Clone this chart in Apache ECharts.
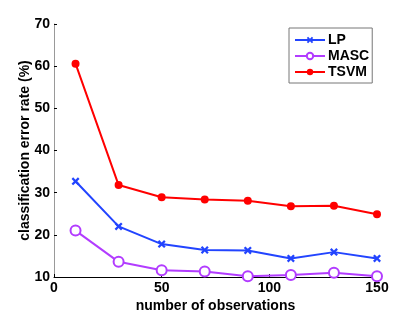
<!DOCTYPE html>
<html><head><meta charset="utf-8">
<script src="https://cdn.jsdelivr.net/npm/echarts@6/dist/echarts.min.js"></script>
<style>html,body{margin:0;padding:0;background:#fff}#c{width:415px;height:312px}</style>
</head><body><div id="c"></div>
<script>
var xs = [10, 30, 50, 70, 90, 110, 130, 150];
var lp = [32.7, 22.0, 17.8, 16.4, 16.3, 14.4, 15.9, 14.4];
var masc = [21.0, 13.6, 11.6, 11.3, 10.2, 10.5, 11.0, 10.2];
var tsvm = [60.6, 31.8, 28.9, 28.4, 28.1, 26.8, 26.9, 24.9];
var xTicks = [0, 50, 100, 150];
var yTicks = [10, 20, 30, 40, 50, 60, 70];

function pts(v){ return xs.map(function(x,i){ return [x, v[i]]; }); }
var font = '"Liberation Sans", Arial, sans-serif';
var chart = echarts.init(document.getElementById('c'), null, {renderer:'canvas'});
var crossPath = 'path://M2,0L5,3L8,0L10,2L7,5L10,8L8,10L5,7L2,10L0,8L3,5L0,2Z';
chart.setOption({
  animation: false,
  backgroundColor: '#fff',
  grid: {left: 54, right: 38, top: 24, bottom: 35, containLabel: false, outerBoundsMode: 'none'},
  legend: {
    orient: 'vertical', left: 289, top: 28,
    padding: [4, 3, 3, 5], itemGap: 0, itemWidth: 30, itemHeight: 8,
    backgroundColor: '#fff', borderColor: '#777', borderWidth: 1,
    textStyle: {fontFamily: font, fontWeight: 'bold', fontSize: 14, color: '#000', padding: [0,0,0,-2], lineHeight: 16},
    data: ['LP', 'MASC', 'TSVM']
  },
  xAxis: {
    type: 'value', min: 0, max: 150, interval: 50,
    name: 'number of observations', nameLocation: 'middle', nameGap: 22, nameMoveOverlap: false,
    nameTextStyle: {fontFamily: font, fontWeight: 'bold', fontSize: 14, color: '#000'},
    axisLine: {show: true, lineStyle: {color: '#000', width: 1}},
    axisTick: {show: true, inside: true, length: 3, lineStyle: {color: '#000'}},
    axisLabel: {fontFamily: font, fontWeight: 'bold', fontSize: 14, color: '#000', margin: 4,
      formatter: function(v){ return xTicks.indexOf(v) >= 0 ? String(v) : ''; }},
    splitLine: {show: false}
  },
  yAxis: {
    type: 'value', min: 10, max: 70, interval: 10,
    name: 'classification error rate (%)', nameLocation: 'middle', nameGap: 22, nameMoveOverlap: false,
    nameTextStyle: {fontFamily: font, fontWeight: 'bold', fontSize: 14, color: '#000'},
    axisLine: {show: true, lineStyle: {color: '#999', width: 1}},
    axisTick: {show: true, inside: true, length: 3, lineStyle: {color: '#000'}},
    axisLabel: {fontFamily: font, fontWeight: 'bold', fontSize: 14, color: '#000', margin: 4,
      formatter: function(v){ return yTicks.indexOf(v) >= 0 ? String(v) : ''; }},
    splitLine: {show: false}
  },
  series: [
    {name: 'LP', type: 'line', data: pts(lp), symbol: crossPath, symbolSize: 8,
     showAllSymbol: true,
     lineStyle: {color: '#2244ff', width: 2}, itemStyle: {color: '#2244ff'}},
    {name: 'MASC', type: 'line', data: pts(masc), symbol: 'emptyCircle', symbolSize: 10,
     lineStyle: {color: '#b23cff', width: 2}, itemStyle: {color: '#b23cff', borderWidth: 2}},
    {name: 'TSVM', type: 'line', data: pts(tsvm), symbol: 'circle', symbolSize: 8,
     lineStyle: {color: '#ff0000', width: 2}, itemStyle: {color: '#ff0000'}}
  ]
});
</script></body></html>
